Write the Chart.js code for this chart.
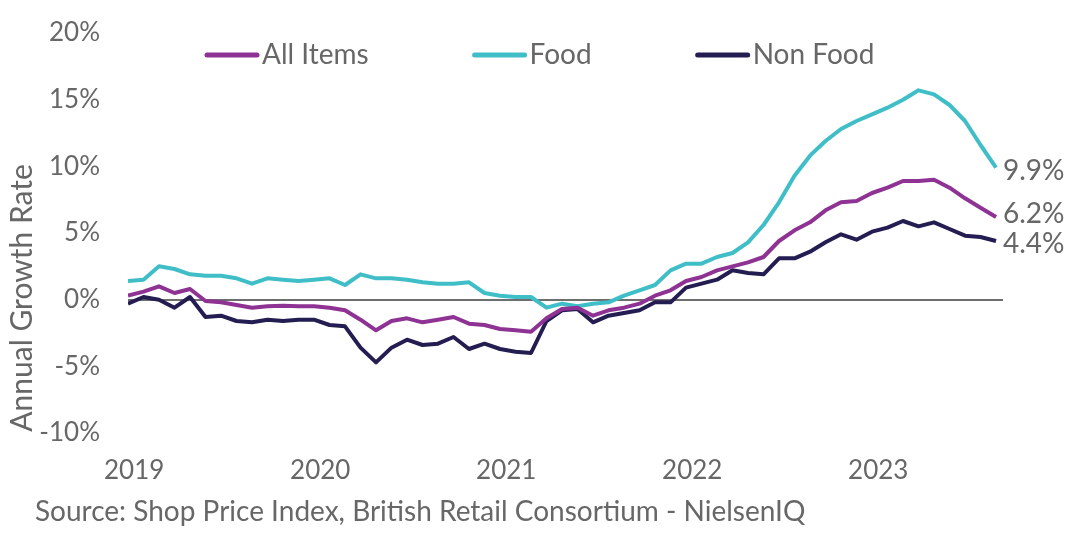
<!DOCTYPE html>
<html>
<head>
<meta charset="utf-8">
<title>Shop Price Index</title>
<script src="https://cdn.jsdelivr.net/npm/chart.js@4/dist/chart.umd.min.js"></script>
<style>
  html, body { margin: 0; padding: 0; background: #fff; }
  #wrap { width: 1080px; height: 536px; }
</style>
</head>
<body>
<div id="wrap"><canvas id="spi-chart" width="1080" height="536"></canvas></div>
<script>
// Monthly annual growth rates, Jan 2019 - Sep 2023 (%)
const years = ['2019', '2020', '2021', '2022', '2023'];
const seriesNames = ['All Items', 'Food', 'Non Food'];

const allItems = [
    0.3, 0.6, 1.0, 0.5, 0.8, -0.1, -0.2, -0.4, -0.6, -0.5, -0.45, -0.5,
    -0.5, -0.6, -0.8, -1.5, -2.3, -1.6, -1.4, -1.7, -1.5, -1.3, -1.8, -1.9,
    -2.2, -2.3, -2.4, -1.4, -0.7, -0.6, -1.2, -0.8, -0.6, -0.3, 0.3, 0.7,
    1.4, 1.7, 2.2, 2.5, 2.8, 3.2, 4.4, 5.2, 5.8, 6.7, 7.3, 7.4,
    8.0, 8.4, 8.9, 8.9, 9.0, 8.4, 7.6, 6.9, 6.2
];
const food = [
    1.4, 1.5, 2.5, 2.3, 1.9, 1.8, 1.8, 1.6, 1.2, 1.6, 1.5, 1.4,
    1.5, 1.6, 1.1, 1.9, 1.6, 1.6, 1.5, 1.3, 1.2, 1.2, 1.3, 0.5,
    0.3, 0.2, 0.2, -0.6, -0.3, -0.5, -0.3, -0.2, 0.3, 0.7, 1.1, 2.2,
    2.7, 2.7, 3.2, 3.5, 4.3, 5.6, 7.3, 9.3, 10.8, 11.9, 12.8, 13.4,
    13.9, 14.4, 15.0, 15.7, 15.4, 14.6, 13.4, 11.6, 9.9
];
const nonFood = [
    -0.3, 0.2, 0.0, -0.6, 0.2, -1.3, -1.2, -1.6, -1.7, -1.5, -1.6, -1.5,
    -1.5, -1.9, -2.0, -3.6, -4.7, -3.6, -3.0, -3.4, -3.3, -2.8, -3.7, -3.3,
    -3.7, -3.9, -4.0, -1.6, -0.8, -0.7, -1.7, -1.2, -1.0, -0.8, -0.2, -0.2,
    0.9, 1.2, 1.5, 2.2, 2.0, 1.9, 3.1, 3.1, 3.6, 4.3, 4.9, 4.5,
    5.1, 5.4, 5.9, 5.5, 5.8, 5.3, 4.8, 4.7, 4.4
];
const yTicks = [-10, -5, 0, 5, 10, 15, 20];
const sourceNote = 'Source: Shop Price Index, British Retail Consortium - NielsenIQ';
const yTitle = 'Annual Growth Rate';

const FONT = 'Lato, "Open Sans", sans-serif';
const TEXT = '#676767';
const colors = ['#8e3294', '#40bec8', '#231d52'];

const toPoints = arr => arr.map((v, i) => ({ x: i, y: v }));

// Legend, end labels, axis title and source drawn on top of the chart
const extras = {
    id: 'extras',
    afterDraw(chart) {
        const ctx = chart.ctx;
        ctx.save();
        ctx.fillStyle = TEXT;

        // legend row
        ctx.font = '28px ' + FONT;
        ctx.textBaseline = 'middle';
        ctx.textAlign = 'left';
        let x = 207;
        chart.data.datasets.forEach(ds => {
            ctx.strokeStyle = ds.borderColor;
            ctx.lineWidth = 5;
            ctx.lineCap = 'round';
            ctx.beginPath();
            ctx.moveTo(x, 55);
            ctx.lineTo(x + 50, 55);
            ctx.stroke();
            ctx.fillStyle = TEXT;
            ctx.fillText(ds.label, x + 55, 55);
            x += 55 + ctx.measureText(ds.label).width + 106;
        });

        // value labels at the end of each line
        const nudge = [-3, 3, 3];
        chart.data.datasets.forEach((ds, i) => {
            const meta = chart.getDatasetMeta(i);
            const last = meta.data[meta.data.length - 1];
            const v = ds.data[ds.data.length - 1].y;
            ctx.fillText(v.toFixed(1) + '%', chart.chartArea.right, last.y + nudge[i]);
        });

        // y axis title
        ctx.font = '30px ' + FONT;
        ctx.save();
        ctx.translate(22, 298);
        ctx.rotate(-Math.PI / 2);
        ctx.textAlign = 'center';
        ctx.fillText(yTitle, 0, 0);
        ctx.restore();

        // source note
        ctx.font = '28px ' + FONT;
        ctx.textAlign = 'left';
        ctx.fillText(sourceNote, 35, 512);
        ctx.restore();
    }
};

const ctx = document.getElementById('spi-chart').getContext('2d');
const spiChart = new Chart(ctx, {
    type: 'line',
    data: {
        datasets: seriesNames.map((name, i) => ({
            label: name,
            data: toPoints([allItems, food, nonFood][i]),
            borderColor: colors[i],
            backgroundColor: colors[i],
            borderWidth: 4,
            pointRadius: 0,
            tension: 0,
            borderJoinStyle: 'round'
        }))
    },
    options: {
        responsive: false,
        animation: false,
        devicePixelRatio: 1,
        layout: { padding: { top: 33, right: 77, left: 0, bottom: 0 } },
        plugins: {
            legend: { display: false },
            tooltip: { enabled: false }
        },
        scales: {
            x: {
                type: 'linear',
                min: 0,
                max: 56.45,
                border: { display: false },
                grid: { display: false, drawTicks: false },
                afterBuildTicks: axis => {
                    axis.ticks = years.map((y, k) => ({ value: k * 12 + 0.4 }));
                },
                afterFit: axis => { axis.height = 103; },
                ticks: {
                    padding: 22,
                    color: TEXT,
                    font: { family: FONT, size: 26 },
                    maxRotation: 0,
                    callback: (value, index) => years[index]
                }
            },
            y: {
                min: -10,
                max: 20,
                border: { display: false },
                grid: {
                    drawTicks: false,
                    lineWidth: 2,
                    color: c => (c.tick && c.tick.value === 0 ? '#6e6e6e' : 'rgba(0,0,0,0)')
                },
                afterBuildTicks: axis => {
                    axis.ticks = yTicks.map(v => ({ value: v }));
                },
                afterFit: axis => {
                    axis.width = 128;
                    // let the outer labels overhang the plot instead of shrinking it
                    axis.paddingTop = 0;
                    axis.paddingBottom = 0;
                },
                ticks: {
                    padding: 28,
                    color: TEXT,
                    font: { family: FONT, size: 26 },
                    callback: v => v + '%'
                }
            }
        }
    },
    plugins: [extras]
});
</script>
</body>
</html>
